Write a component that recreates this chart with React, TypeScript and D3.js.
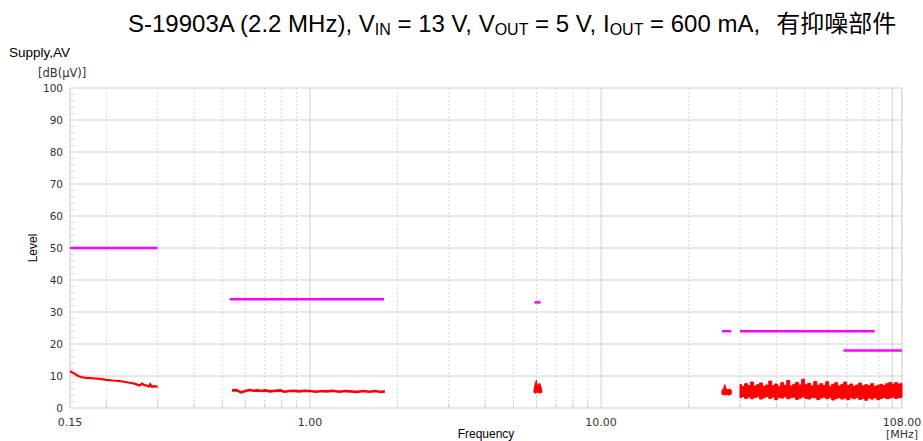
import React from "react";
import * as d3 from "d3";

const W = 923;
const H = 441;

// Y axis ticks
const yTicks = [0, 10, 20, 30, 40, 50, 60, 70, 80, 90, 100];
const yMinorTicks = [2, 4, 6, 8, 12, 14, 16, 18, 22, 24, 26, 28, 32, 34, 36, 38, 42, 44, 46, 48, 52, 54, 56, 58, 62, 64, 66, 68, 72, 74, 76, 78, 82, 84, 86, 88, 92, 94, 96, 98];
// X axis
const xLabelTicks = [0.15, 1, 10, 108];
const xLabelText = ["0.15", "1.00", "10.00", "108.00"];
const xMajorGrid = [1, 10, 100];
const xMinorGrid = [0.2, 0.3, 0.4, 0.5, 0.6, 0.7, 0.8, 0.9, 2, 3, 4, 5, 6, 7, 8, 9, 20, 30, 40, 50, 60, 70, 80, 90];

// Limit lines (magenta)
const limitStart = [0.15, 0.53, 5.9, 26, 30, 68];
const limitEnd = [0.3, 1.8, 6.2, 28, 87, 108];
const limitLevel = [50, 34, 33, 24, 24, 18];

// Measured segment 1 (line)
const seg1Freq = [0.15, 0.155, 0.16, 0.165, 0.17, 0.18, 0.19, 0.2, 0.21, 0.22, 0.23, 0.24, 0.25, 0.255, 0.26, 0.265, 0.27, 0.275, 0.28, 0.283, 0.287, 0.292, 0.3];
const seg1Level = [11.5, 10.8, 10.0, 9.6, 9.4, 9.3, 9.1, 8.8, 8.6, 8.5, 8.2, 7.9, 7.6, 7.3, 7.0, 7.6, 7.2, 7.0, 6.7, 7.4, 6.6, 6.8, 6.6];

// Measured segment 2 (line)
const seg2Freq = [0.54, 0.56, 0.58, 0.6, 0.62, 0.64, 0.66, 0.68, 0.7, 0.73, 0.76, 0.79, 0.82, 0.85, 0.88, 0.92, 0.96, 1.0, 1.05, 1.1, 1.15, 1.2, 1.26, 1.32, 1.38, 1.45, 1.52, 1.6, 1.68, 1.75, 1.81];
const seg2Level = [5.5, 5.6, 4.9, 5.3, 5.6, 5.4, 5.5, 5.3, 5.5, 5.2, 5.4, 5.5, 5.1, 5.3, 5.4, 5.2, 5.4, 5.3, 5.1, 5.3, 5.2, 5.4, 5.1, 5.3, 5.2, 5.0, 5.3, 5.1, 5.3, 5.0, 5.2];

// Measured segment 3 (band)
const seg3Freq = [5.88, 5.95, 6.0, 6.05, 6.1, 6.15, 6.22, 6.27];
const seg3Hi = [5.5, 8.0, 8.7, 6.5, 7.5, 7.8, 6.5, 5.0];
const seg3Lo = [4.8, 4.7, 4.8, 4.9, 4.8, 4.7, 4.8, 4.9];

// Measured segment 4 (band)
const seg4Freq = [26.0, 26.3, 26.6, 26.9, 27.2, 27.5, 27.8, 28.0];
const seg4Hi = [5.6, 5.8, 7.3, 6.0, 5.7, 5.9, 5.8, 5.6];
const seg4Lo = [4.3, 4.1, 4.2, 4.1, 4.2, 4.0, 4.2, 4.3];

// Measured segment 5 (noisy band)
const seg5Freq = [30.0, 30.7, 31.5, 32.2, 33.0, 33.8, 34.6, 35.4, 36.3, 37.2, 38.1, 39.0, 39.9, 40.9, 41.9, 42.9, 43.9, 45.0, 46.0, 47.1, 48.3, 49.4, 50.6, 51.8, 53.1, 54.4, 55.7, 57.0, 58.4, 59.8, 61.2, 62.7, 64.2, 65.7, 67.3, 68.9, 70.6, 72.3, 74.0, 75.8, 77.6, 79.5, 81.4, 83.3, 85.3, 87.4, 89.5, 91.6, 93.8, 96.1, 98.4, 100.7, 103.1, 105.6, 108.0];
const seg5Hi = [7.4, 6.8, 7.6, 7.0, 8.1, 6.9, 7.3, 7.8, 6.7, 7.2, 8.4, 7.0, 7.5, 6.8, 7.9, 7.1, 8.6, 6.9, 7.4, 8.0, 7.2, 9.0, 7.3, 7.7, 6.9, 8.3, 7.1, 7.6, 7.0, 8.2, 6.8, 7.4, 7.9, 6.9, 7.3, 8.1, 7.0, 7.5, 6.8, 7.2, 7.8, 6.9, 7.3, 7.0, 7.6, 6.8, 7.1, 7.4, 7.0, 7.6, 8.0, 7.4, 7.9, 7.5, 7.7];
const seg5Lo = [3.2, 3.6, 3.0, 3.4, 2.9, 3.3, 3.5, 2.8, 3.2, 3.6, 3.0, 3.4, 2.6, 3.3, 3.1, 3.5, 2.9, 3.2, 3.4, 2.7, 3.1, 3.5, 3.0, 2.8, 3.3, 3.2, 2.6, 3.1, 3.4, 2.9, 3.2, 2.5, 3.0, 3.3, 2.8, 3.1, 2.6, 3.2, 2.9, 3.3, 2.7, 3.0, 2.4, 3.1, 2.8, 3.2, 2.6, 3.0, 3.3, 2.9, 3.1, 3.4, 3.0, 3.2, 3.3];

const PL = 70, PR = 902, PT = 88, PB = 408;

export default function App() {
  const x = d3.scaleLog().domain([0.15, 108]).range([PL, PR]);
  const y = d3.scaleLinear().domain([0, 100]).range([PB, PT]);

  const line = d3.line<[number, number]>().x((d) => x(d[0])).y((d) => y(d[1]));
  const band = d3
    .area<[number, number, number]>()
    .x((d) => x(d[0]))
    .y0((d) => y(d[2]))
    .y1((d) => y(d[1]));
  const stepBand = d3
    .area<[number, number, number]>()
    .curve(d3.curveStep)
    .x((d) => x(d[0]))
    .y0((d) => y(d[2]))
    .y1((d) => y(d[1]));

  const seg1 = seg1Freq.map((f, i) => [f, seg1Level[i]] as [number, number]);
  const seg2 = seg2Freq.map((f, i) => [f, seg2Level[i]] as [number, number]);
  const seg3 = seg3Freq.map((f, i) => [f, seg3Hi[i], seg3Lo[i]] as [number, number, number]);
  const seg4 = seg4Freq.map((f, i) => [f, seg4Hi[i], seg4Lo[i]] as [number, number, number]);
  const seg5 = seg5Freq.map((f, i) => [f, seg5Hi[i], seg5Lo[i]] as [number, number, number]);

  const axisFont = "DejaVu Sans, Verdana, sans-serif";
  const sansFont = "Liberation Sans, Arial, Noto Sans CJK SC, sans-serif";

  return (
    <svg width={W} height={H} style={{ position: "absolute", left: 0, top: 0, background: "#fff" }}>
      {/* Title */}
      <text x={128} y={32} fontFamily={sansFont} fontSize={24} fill="#000">
        S-19903A (2.2 MHz), V<tspan fontSize={16} dy={3}>IN</tspan>
        <tspan dy={-3}> = 13 V, V</tspan>
        <tspan fontSize={16} dy={3}>OUT</tspan>
        <tspan dy={-3}> = 5 V, I</tspan>
        <tspan fontSize={16} dy={3}>OUT</tspan>
        <tspan dy={-3}> = 600 mA,</tspan>
        <tspan dx={16} fontSize={24} fontFamily="Noto Sans CJK SC, sans-serif">有抑噪部件</tspan>
      </text>
      <text x={9} y={57} fontFamily={sansFont} fontSize={13.5} fill="#000">Supply,AV</text>
      <text x={38} y={77} fontFamily={axisFont} fontSize={11.5} fill="#333">[dB(µV)]</text>

      {/* Grid */}
      {xMinorGrid.map((v) => (
        <line key={"xm" + v} x1={x(v)} x2={x(v)} y1={PT} y2={PB} stroke="#d8d8d8" strokeWidth={1} strokeDasharray="2,2" />
      ))}
      {xMinorGrid.map((v) => (
        <line key={"xt" + v} x1={x(v)} x2={x(v)} y1={PB - 5} y2={PB} stroke="#d0d0d0" strokeWidth={1} />
      ))}
      {xMajorGrid.map((v) => (
        <line key={"xM" + v} x1={x(v)} x2={x(v)} y1={PT} y2={PB} stroke="#cfcfcf" strokeWidth={1} />
      ))}
      {yTicks.map((v) => (
        <line key={"yg" + v} x1={PL} x2={PR} y1={y(v)} y2={y(v)} stroke="#cfcfcf" strokeWidth={1} />
      ))}
      {yMinorTicks.map((v) => (
        <line key={"ym" + v} x1={PL} x2={PL + 4} y1={y(v)} y2={y(v)} stroke="#d0d0d0" strokeWidth={1} />
      ))}
      <line x1={PL} x2={PL} y1={PT} y2={PB} stroke="#c8c8c8" />
      <line x1={PR} x2={PR} y1={PT} y2={PB} stroke="#c8c8c8" />

      {/* Y labels */}
      {yTicks.map((v) => (
        <text key={"yl" + v} x={63} y={y(v) + 4} textAnchor="end" fontFamily={axisFont} fontSize={10.5} fill="#333">
          {v}
        </text>
      ))}
      {xLabelTicks.map((v, i) => (
        <text key={"xl" + v} x={x(v)} y={426} textAnchor="middle" fontFamily={axisFont} fontSize={11} fill="#333">
          {xLabelText[i]}
        </text>
      ))}
      <text x={902} y={438} textAnchor="middle" fontFamily={axisFont} fontSize={11} fill="#333">[MHz]</text>
      <text x={486} y={438} textAnchor="middle" fontFamily={sansFont} fontSize={12} fill="#000">Frequency</text>
      <text transform={`translate(37,${y(50)}) rotate(-90)`} textAnchor="middle" fontFamily={sansFont} fontSize={12} fill="#000">Level</text>

      {/* Limits */}
      {limitLevel.map((lv, i) => (
        <line key={"lim" + i} x1={x(limitStart[i])} x2={x(limitEnd[i])} y1={y(lv)} y2={y(lv)} stroke="#ff00ff" strokeWidth={2.5} />
      ))}

      {/* Data */}
      <path d={line(seg1) || ""} fill="none" stroke="#ff0000" strokeWidth={2.2} />
      <path d={line(seg2) || ""} fill="none" stroke="#ff0000" strokeWidth={2.6} />
      <path d={band(seg3) || ""} fill="#ff0000" stroke="#ff0000" strokeWidth={1} />
      <path d={band(seg4) || ""} fill="#ff0000" stroke="#ff0000" strokeWidth={1} />
      <path d={stepBand(seg5) || ""} fill="#ff0000" stroke="#ff0000" strokeWidth={1} />
    </svg>
  );
}
